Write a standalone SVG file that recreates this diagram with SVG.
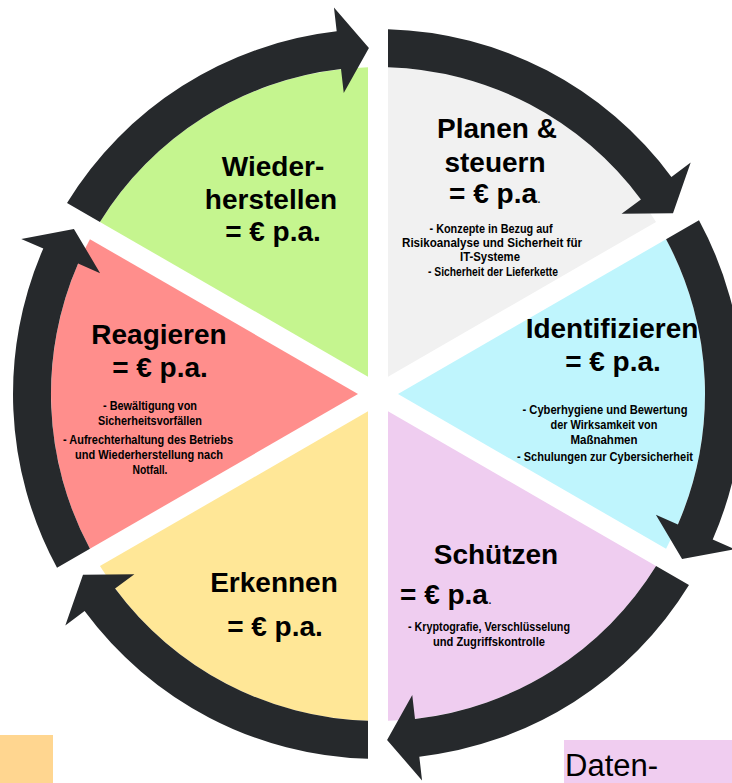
<svg xmlns="http://www.w3.org/2000/svg" xmlns:xlink="http://www.w3.org/1999/xlink" width="732" height="783" viewBox="0 0 732 783">
<style>
text{font-family:"Liberation Sans",Arial,sans-serif;fill:#000;}
.t{font-size:28px;font-weight:bold;text-anchor:middle;}
.s{font-size:13px;font-weight:bold;text-anchor:middle;}
.s2{font-size:12px;font-weight:bold;text-anchor:middle;}
.dot{font-size:14px;font-weight:normal;}
.arr{fill:#26292C;}
</style>
<defs>
<path id="sec" d="M388 376.68 L388 67.15 A327 327 0 0 1 656.06 221.92 Z"/>
<path id="arrow" d="M388 29.14 A365 365 0 0 1 671.4 176.9 L690.7 162.6 L673 213.2 L621.6 213.8 L640.9 199.5 A327 327 0 0 0 388 67.15 Z"/>
</defs>
<rect width="732" height="783" fill="#fff"/>

<g id="planen">
<use xlink:href="#sec" fill="#F1F1F1"/>
<text class="t" x="497" y="138">Planen &amp;</text>
<text class="t" x="495" y="172">steuern</text>
<text class="t" x="495" y="203">= € p.a<tspan class="dot">.</tspan></text>
<text class="s2" x="491" y="233" textLength="123" lengthAdjust="spacingAndGlyphs">- Konzepte in Bezug auf</text>
<text class="s2" x="492" y="247" textLength="180" lengthAdjust="spacingAndGlyphs">Risikoanalyse und Sicherheit für</text>
<text class="s2" x="490" y="261" textLength="60" lengthAdjust="spacingAndGlyphs">IT-Systeme</text>
<text class="s2" x="493" y="276" textLength="130" lengthAdjust="spacingAndGlyphs">- Sicherheit der Lieferkette</text>
</g>

<g id="identifizieren">
<use xlink:href="#sec" fill="#BFF5FD" transform="rotate(60 378 394)"/>
<text class="t" x="612" y="338">Identifizieren</text>
<text class="t" x="613" y="371">= € p.a.</text>
<text class="s" x="605" y="414" textLength="165" lengthAdjust="spacingAndGlyphs">- Cyberhygiene und Bewertung</text>
<text class="s" x="604" y="429" textLength="107" lengthAdjust="spacingAndGlyphs">der Wirksamkeit von</text>
<text class="s" x="604" y="444" textLength="67" lengthAdjust="spacingAndGlyphs">Maßnahmen</text>
<text class="s" x="605" y="461" textLength="176" lengthAdjust="spacingAndGlyphs">- Schulungen zur Cybersicherheit</text>
</g>

<g id="schuetzen">
<use xlink:href="#sec" fill="#EFCDF0" transform="rotate(120 378 394)"/>
<text class="t" x="496" y="564">Schützen</text>
<text class="t" x="400" y="604" style="text-anchor:start">= € p.a<tspan class="dot">.</tspan></text>
<text class="s" x="489" y="631" textLength="162" lengthAdjust="spacingAndGlyphs">- Kryptografie, Verschlüsselung</text>
<text class="s" x="489" y="646" textLength="112" lengthAdjust="spacingAndGlyphs">und Zugriffskontrolle</text>
</g>

<g id="erkennen">
<use xlink:href="#sec" fill="#FFE797" transform="rotate(180 378 394)"/>
<text class="t" x="274" y="592">Erkennen</text>
<text class="t" x="275" y="636">= € p.a.</text>
</g>

<g id="reagieren">
<use xlink:href="#sec" fill="#FF8E8C" transform="rotate(240 378 394)"/>
<text class="t" x="159" y="344">Reagieren</text>
<text class="t" x="160" y="377">= € p.a.</text>
<text class="s" x="150" y="410" textLength="94" lengthAdjust="spacingAndGlyphs">- Bewältigung von</text>
<text class="s" x="150" y="425" textLength="104" lengthAdjust="spacingAndGlyphs">Sicherheitsvorfällen</text>
<text class="s" x="148" y="444" textLength="170" lengthAdjust="spacingAndGlyphs">- Aufrechterhaltung des Betriebs</text>
<text class="s" x="149" y="459" textLength="148" lengthAdjust="spacingAndGlyphs">und Wiederherstellung nach</text>
<text class="s" x="150" y="474" textLength="35" lengthAdjust="spacingAndGlyphs">Notfall.</text>
</g>

<g id="wiederherstellen">
<use xlink:href="#sec" fill="#C5F58F" transform="rotate(300 378 394)"/>
<text class="t" x="273" y="176">Wieder-</text>
<text class="t" x="271" y="209">herstellen</text>
<text class="t" x="273" y="241">= € p.a.</text>
</g>

<g id="connectors">
<use xlink:href="#arrow" class="arr"/>
<use xlink:href="#arrow" class="arr" transform="rotate(60 378 394)"/>
<use xlink:href="#arrow" class="arr" transform="rotate(120 378 394)"/>
<use xlink:href="#arrow" class="arr" transform="rotate(180 378 394)"/>
<use xlink:href="#arrow" class="arr" transform="rotate(240 378 394)"/>
<use xlink:href="#arrow" class="arr" transform="rotate(300 378 394)"/>
</g>

<g id="legend-orange">
<rect x="0" y="735" width="53" height="48" fill="#FFD690"/>
</g>
<g id="legend-daten">
<rect x="564" y="740" width="168" height="43" fill="#F0CDF0"/>
<text x="565" y="776" style="font-size:31px">Daten-</text>
</g>
</svg>
